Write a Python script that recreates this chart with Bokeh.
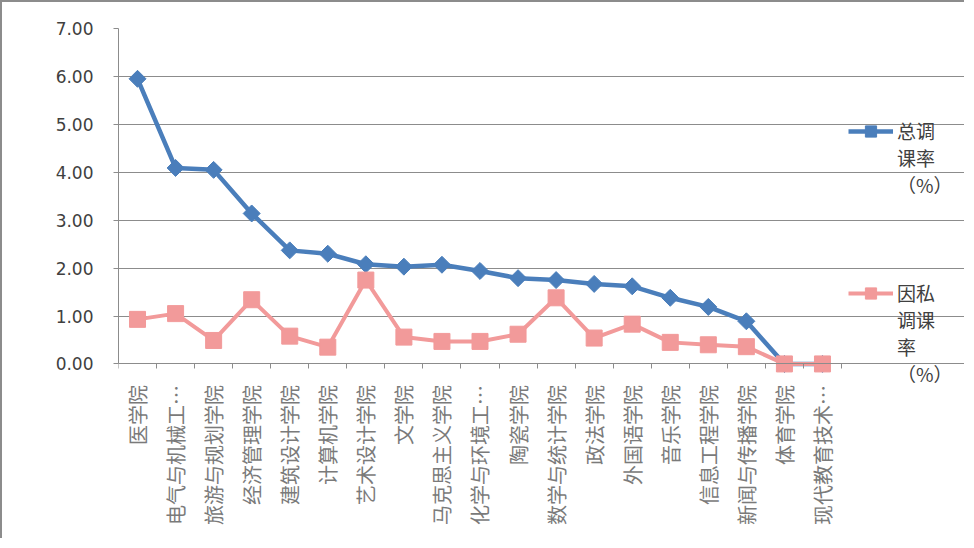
import numpy as np
from bokeh.plotting import figure
from bokeh.models import (Range1d, FixedTicker, Legend, LegendItem,
                          PrintfTickFormatter, ColumnDataSource)
from bokeh.embed import file_html
from bokeh.resources import INLINE

# ---- data ----
categories = ["医学院", "电气与机械工…", "旅游与规划学院", "经济管理学院", "建筑设计学院",
              "计算机学院", "艺术设计学院", "文学院", "马克思主义学院", "化学与环境工…",
              "陶瓷学院", "数学与统计学院", "政法学院", "外国语学院", "音乐学院",
              "信息工程学院", "新闻与传播学院", "体育学院", "现代教育技术…"]
total_rate = [5.95, 4.09, 4.05, 3.14, 2.37, 2.30, 2.08, 2.03, 2.07, 1.94,
              1.79, 1.75, 1.67, 1.62, 1.38, 1.19, 0.89, 0.00, 0.00]
private_rate = [0.93, 1.05, 0.49, 1.34, 0.58, 0.35, 1.75, 0.56, 0.47, 0.47,
                0.62, 1.38, 0.54, 0.83, 0.45, 0.40, 0.36, 0.00, 0.00]
# legend texts as wrapped in the reference (leading blank lines keep the
# legend glyph level with the first text line)
legend_labels = ["\n\n总调\n课率\n（%）", "\n\n\n因私\n调课\n率\n（%）"]
y_ticks = [0, 1, 2, 3, 4, 5, 6, 7]

BLUE = "#4A7EBB"
PINK = "#F29A9A"
GRID = "#8C8C8C"
TEXT = "#404040"

n = len(categories)
xpos = [i + 0.5 for i in range(n)]
src = ColumnDataSource(dict(x=xpos, total=total_rate, private=private_rate,
                            cat=categories, ang=[np.pi / 4] * n))

# layout (pixels): the frame spans the whole canvas right/bottom so that
# category labels and the legend, which sit outside the data area, are not clipped
W, H = 964, 538
LEFT, TOP = 116, 26
CAT_W = 723 / n           # px per category
UNIT_H = 357 / 7.45       # px per y unit
x_end = (W - LEFT) / CAT_W
y_start = 7 - (H - TOP) / UNIT_H

p = figure(width=W, height=H, output_backend="svg", toolbar_location=None,
           x_range=Range1d(0, x_end), y_range=Range1d(y_start, 7),
           min_border_left=LEFT, min_border_right=0, min_border_top=TOP,
           min_border_bottom=0)
p.styles = {"border-top": "2px solid #8c8c8c", "border-left": "2px solid #8c8c8c"}
p.outline_line_color = None
p.background_fill_color = "white"
p.border_fill_color = "white"

# grid
p.xgrid.visible = False
p.ygrid.ticker = FixedTicker(ticks=y_ticks)
p.ygrid.bounds = (0, n)
p.ygrid.grid_line_color = GRID
p.ygrid.grid_line_width = 1

# y axis
yax = p.yaxis[0]
yax.ticker = FixedTicker(ticks=y_ticks)
yax.formatter = PrintfTickFormatter(format="%.2f")
yax.bounds = (0, 7)
yax.axis_line_color = GRID
yax.major_tick_line_color = GRID
yax.major_tick_out = 5
yax.major_tick_in = 0
yax.minor_tick_line_color = None
yax.major_label_standoff = 20
yax.major_label_text_font = "DejaVu Sans"
yax.major_label_text_font_size = "17px"
yax.major_label_text_color = TEXT

# x axis
xax = p.xaxis[0]
xax.fixed_location = 0
xax.bounds = (0, n)
xax.ticker = FixedTicker(ticks=xpos, minor_ticks=list(range(n + 1)))
xax.major_label_overrides = {float(xv): c for xv, c in zip(xpos, categories)}
xax.major_label_orientation = np.pi / 2
xax.axis_line_color = GRID
xax.major_tick_line_color = None
xax.minor_tick_line_color = GRID
xax.minor_tick_out = 5
xax.minor_tick_in = 0
xax.major_label_standoff = 15
xax.major_label_text_font = "Noto Sans CJK SC"
xax.major_label_text_font_size = "20px"
xax.major_label_text_color = "#7a7a7a"

# series
r1l = p.line("x", "total", source=src, line_color=BLUE, line_width=4.5)
r1m = p.scatter("x", "total", source=src, marker="square", angle="ang",
                size=12, color=BLUE)
r2l = p.line("x", "private", source=src, line_color=PINK, line_width=4)
r2m = p.scatter("x", "private", source=src, marker="square", size=16, color=PINK)

legend = Legend(items=[LegendItem(label=legend_labels[0], renderers=[r1l, r1m]),
                       LegendItem(label=legend_labels[1], renderers=[r2l, r2m])],
                location=(730, 153))
legend.padding = 0
legend.margin = 0
legend.spacing = -19
legend.glyph_width = 45
legend.glyph_height = 28
legend.label_standoff = 4
legend.border_line_color = None
legend.background_fill_alpha = 0
legend.label_text_font = "Noto Sans CJK SC"
legend.label_text_font_size = "19px"
legend.label_text_line_height = 1.45
legend.label_text_color = TEXT
p.add_layout(legend)

open("out.html", "w").write(file_html(p, INLINE))
